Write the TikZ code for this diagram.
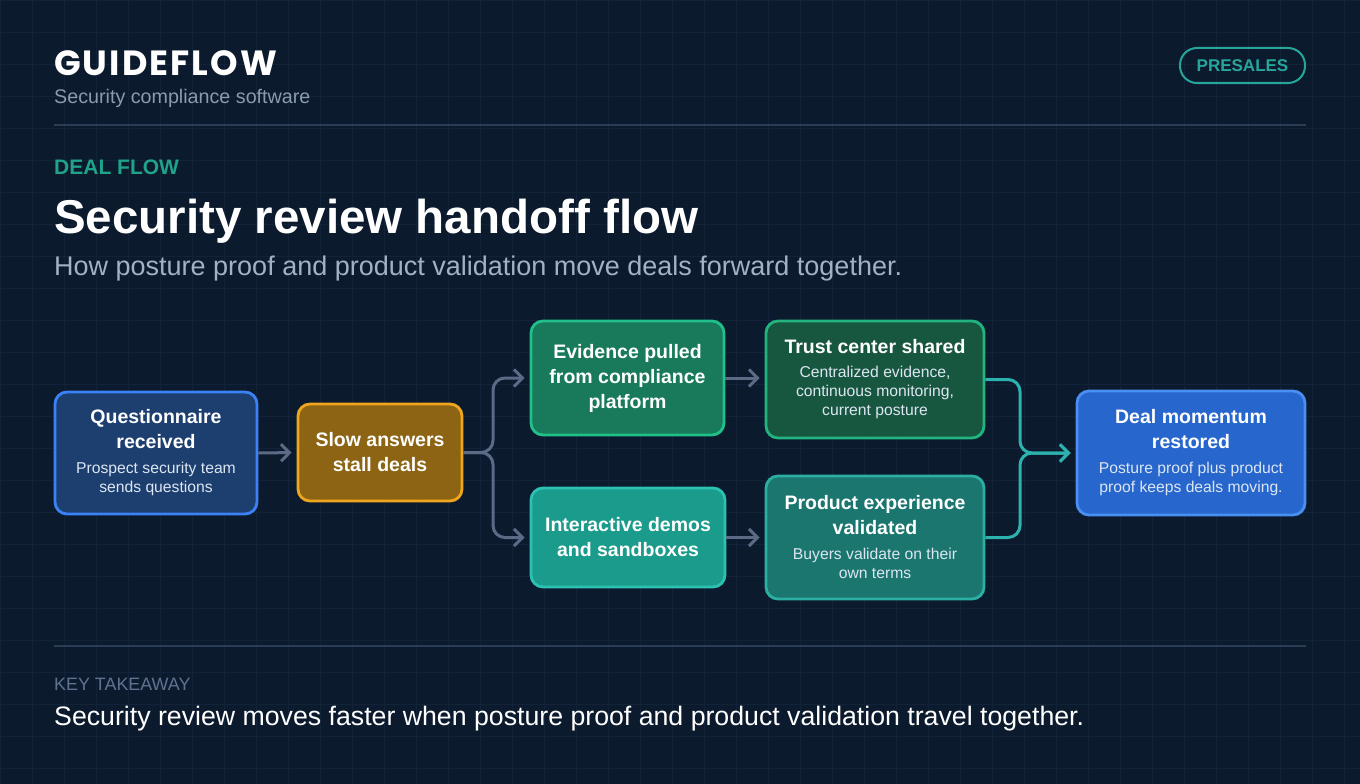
\documentclass[tikz,border=0pt]{standalone}
\usepackage{fontspec}
\setmainfont{Liberation Sans}
\newfontfamily\logofont[LetterSpace=6]{Poppins}
\usetikzlibrary{arrows.meta}
\definecolor{bg}{HTML}{0C1A2D}
\definecolor{gridc}{HTML}{122339}
\definecolor{rulec}{HTML}{2A3D57}
\definecolor{mutedtxt}{HTML}{8A9BB0}
\definecolor{subtxt}{HTML}{A3B1C4}
\definecolor{keytxt}{HTML}{5F7390}
\definecolor{tealtxt}{HTML}{1FA38A}
\definecolor{pillc}{HTML}{26A69A}
\definecolor{nodesubc}{HTML}{DCE6F2}
\definecolor{arrgray}{HTML}{5B6B86}
\definecolor{arrteal}{HTML}{2DB3AF}
\definecolor{qfill}{HTML}{1D3F70}\definecolor{qdraw}{HTML}{3B82F6}
\definecolor{sfill}{HTML}{8C6414}\definecolor{sdraw}{HTML}{F0A51E}
\definecolor{efill}{HTML}{187A5A}\definecolor{edraw}{HTML}{21C08A}
\definecolor{tfill}{HTML}{18573F}\definecolor{tdraw}{HTML}{22B47F}
\definecolor{ifill}{HTML}{1A9B8C}\definecolor{idraw}{HTML}{2CC2B1}
\definecolor{pfill}{HTML}{1B7670}\definecolor{pdraw}{HTML}{2AAFA2}
\definecolor{dfill}{HTML}{2766CC}\definecolor{ddraw}{HTML}{4A8FF2}
\newcommand\fixspaces{\spaceskip=\fontdimen2\font\xspaceskip=\fontdimen2\font\relax}
\newcommand\nodetitle{\fontsize{19.5}{25}\selectfont\bfseries\color{white}\fixspaces}
\newcommand\nodesub{\fontsize{15.7}{19}\selectfont\color{nodesubc}\fixspaces}
\tikzset{
  box/.style={rounded corners=12pt, line width=2.8pt, align=center, inner sep=0pt, text width=#1},
  box/.default=190pt,
  conn/.style={line width=3pt, color=arrgray, rounded corners=12pt, -{Straight Barb[length=8.5pt,width=17pt,line width=3pt]}, shorten >=5pt},
  connt/.style={line width=3pt, color=arrteal, rounded corners=12pt, -{Straight Barb[length=8.5pt,width=17pt,line width=3pt]}, shorten >=5pt},
  plain/.style={anchor=base west, inner sep=0pt}
}
\begin{document}
\begin{tikzpicture}[x=1pt,y=-1pt]
\fill[bg] (0,0) rectangle (1360,784);
\useasboundingbox (0,0) rectangle (1360,784);
\foreach \i in {0,32,...,1360} \draw[gridc, line width=0.7pt] (\i,0) -- (\i,784);
\foreach \j in {0,32,...,784} \draw[gridc, line width=0.7pt] (0,\j) -- (1360,\j);

% header
\node[plain, text=white] (logo) at (54,75) {\logofont\fontsize{35}{40}\selectfont\bfseries GUIDEFLOW};
\node[plain, text=mutedtxt] (tag) at (54,103) {\fontsize{19.7}{23}\selectfont Security compliance software};
\node[draw=pillc, line width=2pt, rounded corners=17pt, minimum width=125pt, minimum height=35pt, text=pillc, font=\fontsize{17}{20}\selectfont\bfseries] (pill) at (1242.5,65.5) {PRESALES};
\coordinate (r1a) at (54,125); \coordinate (r1b) at (1306,125);
\draw[rulec, line width=1.5pt] (r1a) -- (r1b);

\node[plain, text=tealtxt] (kicker) at (54,174) {\fontsize{21}{24}\selectfont\bfseries DEAL FLOW};
\node[plain, text=white] (title) at (54,233) {\fontsize{47.5}{54}\selectfont\bfseries Security review handoff flow};
\node[plain, text=subtxt] (subtitle) at (54,275) {\fontsize{27}{31}\selectfont How posture proof and product validation move deals forward together.};

% nodes
\node[box=196pt, fill=qfill, draw=qdraw, minimum width=202pt, minimum height=122pt] (q) at (156,453)
 {{\nodetitle Questionnaire\\received\par}\vskip6pt{\nodesub Prospect security team\\sends questions\par}};
\node[box=160pt, fill=sfill, draw=sdraw, minimum width=164pt, minimum height=97pt] (s) at (380,452.5)
 {{\nodetitle Slow answers\\stall deals\par}};
\node[box=190pt, fill=efill, draw=edraw, minimum width=193pt, minimum height=114pt] (e) at (627.5,378)
 {{\nodetitle Evidence pulled\\from compliance\\platform\par}};
\node[box=212pt, fill=tfill, draw=tdraw, minimum width=218pt, minimum height=117pt] (t) at (875,379.5)
 {{\nodetitle Trust center shared\par}\vskip5pt{\nodesub Centralized evidence,\\continuous monitoring,\\current posture\par}};
\node[box=190pt, fill=ifill, draw=idraw, minimum width=194pt, minimum height=99pt] (i) at (628,537.5)
 {{\nodetitle Interactive demos\\and sandboxes\par}};
\node[box=212pt, fill=pfill, draw=pdraw, minimum width=218pt, minimum height=123pt] (p) at (875,537.5)
 {{\nodetitle Product experience\\validated\par}\vskip6pt{\nodesub Buyers validate on their\\own terms\par}};
\node[box=222pt, fill=dfill, draw=ddraw, minimum width=228pt, minimum height=124pt] (d) at (1191,453)
 {{\nodetitle Deal momentum\\restored\par}\vskip6pt{\nodesub Posture proof plus product\\proof keeps deals moving.\par}};

% connectors
\coordinate (bx) at (493,0);
\coordinate (mx) at (1020,0);
\draw[conn] (q.east) -- (s.west);
\draw[conn] (s.east) -- (bx |- s.east) |- (e.west);
\draw[conn] (s.east) -- (bx |- s.east) |- (i.west);
\draw[conn] (e.east) -- (t.west |- e.east);
\draw[conn] (i.east) -- (p.west |- i.east);
\draw[connt] (t.east) -- (mx |- t.east) |- (d.west);
\draw[connt] (p.east) -- (mx |- p.east) |- (d.west);

% footer
\coordinate (r2a) at (54,646); \coordinate (r2b) at (1306,646);
\draw[rulec, line width=1.5pt] (r2a) -- (r2b);
\node[plain, text=keytxt] (key) at (54,690) {\fontsize{17.9}{21}\selectfont KEY TAKEAWAY};
\node[plain, text=white] (take) at (54,725) {\fontsize{26.7}{31}\selectfont Security review moves faster when posture proof and product validation travel together.};
\end{tikzpicture}
\end{document}
